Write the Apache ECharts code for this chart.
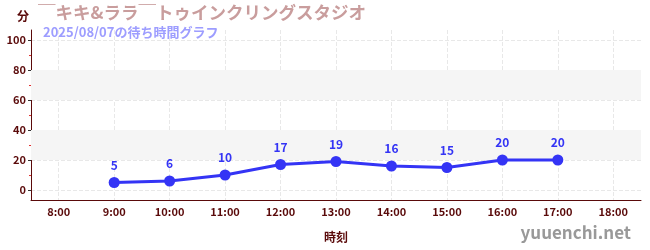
<!DOCTYPE html>
<html><head><meta charset="utf-8">
<script src="https://cdn.jsdelivr.net/npm/echarts@6/dist/echarts.min.js"></script>
<style>html,body{margin:0;padding:0;background:#fff}#c{width:650px;height:250px}</style>
</head><body><div id="c"></div>
<script>
const categories = ['8:00','9:00','10:00','11:00','12:00','13:00','14:00','15:00','16:00','17:00','18:00'];
const waitMinutes = [null,5,6,10,17,19,16,15,20,20,null];
const yTickValues = [0,20,40,60,80,100];
const yMinorTickValues = [10,30,50,70,90];
const bands = [[20,40],[60,80]];
const titleText = '￣キキ&ララ￣トゥインクリングスタジオ';
const subtitleText = '2025/08/07の待ち時間グラフ';
const yName = '分';
const xName = '時刻';
const watermark = 'yuuenchi.net';

const axisColor = '#5a0a0a';
const font = '"Noto Sans CJK JP", "Noto Sans", sans-serif';
const catIdx = categories.map((c, i) => i);
const chart = echarts.init(document.getElementById('c'));
chart.setOption({
  animation: false,
  textStyle: {fontFamily: font},
  title: [
    {text: titleText, left: 33, top: -1, textStyle: {color: '#c99d9d', fontSize: 17.5, fontWeight: 'bold', fontFamily: font}},
    {text: subtitleText, left: 38, top: 21, textStyle: {color: '#9d9dff', fontSize: 13, fontWeight: 'bold', fontFamily: font}},
    {text: watermark, right: 14, bottom: 4, textStyle: {color: '#999999', fontSize: 17, fontWeight: 'bold', fontFamily: font}}
  ],
  grid: {left: 31, right: 9, top: 30, bottom: 50},
  xAxis: [{
    type: 'category', data: categories, boundaryGap: true,
    name: xName, nameLocation: 'middle', nameGap: 31,
    nameTextStyle: {color: axisColor, fontSize: 12, fontWeight: 'bold', fontFamily: font},
    axisLine: {onZero: false, lineStyle: {color: axisColor, width: 1}},
    axisTick: {alignWithLabel: true, length: 3, lineStyle: {color: '#555'}},
    axisLabel: {color: axisColor, fontSize: 11, margin: 6, fontWeight: 'bold', fontFamily: font},
    splitLine: {show: false}
  }, {
    type: 'value', min: -0.5, max: categories.length - 0.5, position: 'bottom',
    axisLine: {show: false, onZero: false},
    axisTick: {show: false, customValues: catIdx},
    axisLabel: {show: false, customValues: catIdx},
    splitLine: {show: true, lineStyle: {color: '#e8e8e8', type: 'dashed'}}
  }],
  yAxis: [{
    type: 'value', min: -6.667, max: 106.667,
    name: yName, nameLocation: 'end', nameGap: 8,
    nameTextStyle: {color: axisColor, fontSize: 12, fontWeight: 'bold', align: 'right', padding: [0, 2, 0, 0], fontFamily: font},
    axisLine: {show: true, onZero: false, lineStyle: {color: axisColor, width: 1}},
    axisTick: {show: true, length: 3, customValues: yTickValues, lineStyle: {color: '#333'}},
    axisLabel: {color: axisColor, fontSize: 11, margin: 5, fontWeight: 'bold', customValues: yTickValues, fontFamily: font},
    splitLine: {show: true, lineStyle: {color: '#e8e8e8', type: 'dashed'}}
  }, {
    type: 'value', min: -6.667, max: 106.667, position: 'left',
    axisLine: {show: false, onZero: false},
    axisTick: {show: true, length: 2, customValues: yMinorTickValues, lineStyle: {color: '#e03030'}},
    axisLabel: {show: false, customValues: yMinorTickValues},
    splitLine: {show: false}
  }],
  series: [{
    type: 'line', data: waitMinutes, connectNulls: false,
    symbol: 'circle', symbolSize: 11,
    lineStyle: {color: '#3434f5', width: 3},
    itemStyle: {color: '#3434f5'},
    label: {show: true, position: 'top', distance: 6, color: '#3434f5', fontSize: 12, fontWeight: 'bold', fontFamily: font},
    markArea: {
      silent: true,
      itemStyle: {color: '#f5f5f5'},
      data: bands.map(b => [{yAxis: b[0]}, {yAxis: b[1]}])
    },
    z: 5
  }]
});
</script></body></html>
